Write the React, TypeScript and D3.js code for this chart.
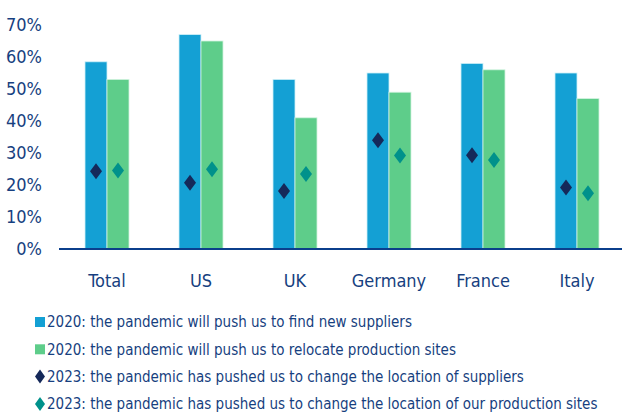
import React from "react";
import * as d3 from "d3";

const categories = ["Total", "US", "UK", "Germany", "France", "Italy"];
const newSuppliers2020 = [58.5, 67, 53, 55, 58, 55];
const relocateSites2020 = [53, 65, 41, 49, 56, 47];
const changedSuppliers2023 = [24.3, 20.7, 18.1, 34, 29.3, 19.2];
const changedSites2023 = [24.5, 24.9, 23.4, 29.2, 27.8, 17.4];
const yTicks = [0, 10, 20, 30, 40, 50, 60, 70];
const legendLabels = [
  "2020: the pandemic will push us to find new suppliers",
  "2020: the pandemic will push us to relocate production sites",
  "2023: the pandemic has pushed us to change the location of suppliers",
  "2023: the pandemic has pushed us to change the location of our production sites",
];

const BLUE = "#14A0D4";
const GREEN = "#5ECD8A";
const NAVY = "#15295A";
const TEAL = "#00918B";
const TEXT = "#173F80";
const AXIS = "#0B3F8C";
const FONT = "'Liberation Sans Narrow', 'DejaVu Sans Condensed', 'Liberation Sans', sans-serif";

export default function App() {
  const W = 622, H = 414;
  const x = d3.scaleBand<string>().domain(categories).range([60, 624]);
  const y = d3.scaleLinear().domain([0, 70]).range([249, 25]);
  const barW = 22;

  const diamond = (cx: number, cy: number) =>
    `M${cx},${cy - 8}L${cx + 6},${cy}L${cx},${cy + 8}L${cx - 6},${cy}Z`;

  return (
    <svg width={W} height={H} style={{ position: "absolute", left: 0, top: 0 }} fontFamily={FONT}>
      <rect width={W} height={H} fill="#fff" />
      {yTicks.map((t) => (
        <text key={t} x={42} y={y(t)} dy="0.36em" textAnchor="end" fontSize={18} fill={TEXT}>
          {t}%
        </text>
      ))}
      {categories.map((c, i) => {
        const cx = x(c)! + x.bandwidth() / 2;
        return (
          <g key={c}>
            <rect x={cx - barW} y={y(newSuppliers2020[i])} width={barW} height={y(0) - y(newSuppliers2020[i])} fill={BLUE} stroke="#CDEFF8" strokeWidth={0.8} />
            <rect x={cx} y={y(relocateSites2020[i])} width={barW} height={y(0) - y(relocateSites2020[i])} fill={GREEN} stroke="#D3F3DF" strokeWidth={0.8} />
            <path d={diamond(cx - barW / 2, y(changedSuppliers2023[i]))} fill={NAVY} />
            <path d={diamond(cx + barW / 2, y(changedSites2023[i]))} fill={TEAL} />
            <text x={cx} y={287} textAnchor="middle" fontSize={18} fill={TEXT}>{c}</text>
          </g>
        );
      })}
      <line x1={59} x2={622} y1={y(0)} y2={y(0)} stroke={AXIS} strokeWidth={2} />
      {legendLabels.map((l, i) => {
        const cy = 322 + i * 27.3;
        return (
          <g key={l}>
            {i < 2 ? (
              <rect x={35} y={cy - 5} width={10} height={10} fill={i === 0 ? BLUE : GREEN} />
            ) : (
              <path d={`M40,${cy - 7}L45,${cy}L40,${cy + 7}L35,${cy}Z`} fill={i === 2 ? NAVY : TEAL} />
            )}
            <text x={47} y={cy} dy="0.36em" fontSize={15} fill={TEXT}>{l}</text>
          </g>
        );
      })}
    </svg>
  );
}
